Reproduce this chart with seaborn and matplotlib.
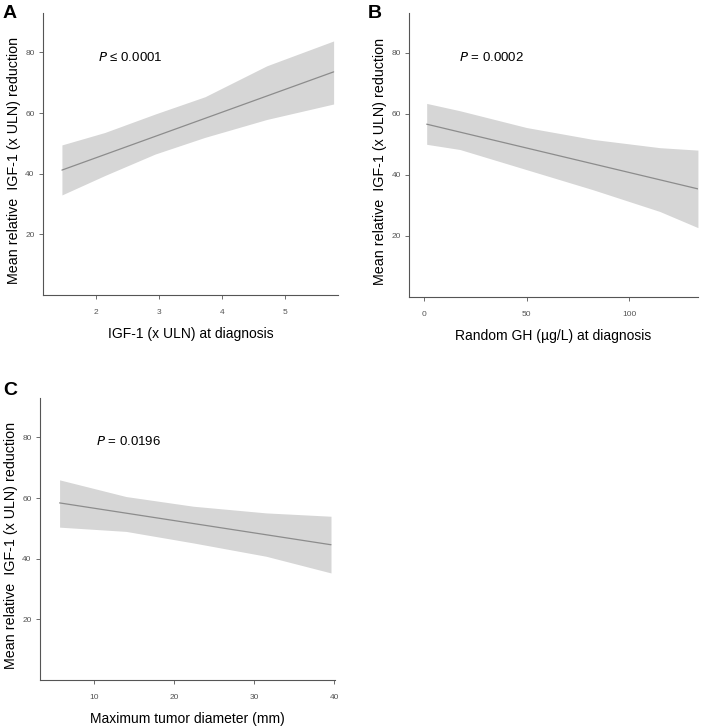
import numpy as np
import pandas as pd
import matplotlib
matplotlib.use("Agg")
import matplotlib.pyplot as plt
import seaborn as sns

# Panel A: IGF-1 (x ULN) at diagnosis
a_x = [1.46, 2.14, 2.94, 3.73, 4.71, 5.77]
a_lower = [33.0, 39.4, 46.5, 52.0, 57.9, 63.0]
a_upper = [49.5, 53.6, 59.7, 65.4, 75.6, 83.8]
a_fit_x = [1.46, 5.77]
a_fit_y = [41.2, 73.6]

# Panel B: Random GH (µg/L) at diagnosis
b_x = [1.3, 17.5, 50.0, 82.5, 115.0, 133.6]
b_lower = [50.0, 48.3, 41.7, 35.1, 28.0, 22.7]
b_upper = [63.4, 61.0, 55.5, 51.6, 48.9, 48.1]
b_fit_x = [1.3, 133.6]
b_fit_y = [56.6, 35.4]

# Panel C: Maximum tumor diameter (mm)
c_x = [5.7, 14.0, 22.4, 31.5, 39.6]
c_lower = [50.4, 49.0, 45.2, 40.8, 35.3]
c_upper = [66.0, 60.5, 57.3, 55.1, 54.0]
c_fit_x = [5.7, 39.6]
c_fit_y = [58.4, 44.6]

y_ticks = [20, 40, 60, 80]
ylabel = "Mean relative  IGF-1 (x ULN) reduction"

sns.set_style("ticks")
plt.rcParams["font.family"] = ["Liberation Sans", "DejaVu Sans"]
plt.rcParams["text.color"] = "black"
plt.rcParams["axes.labelcolor"] = "black"

fig = plt.figure(figsize=(7.24, 7.26), dpi=100)

panels = [
    dict(rect=[0.0594, 0.5937, 0.4075, 0.3883], x=a_x, lo=a_lower, hi=a_upper,
         fx=a_fit_x, fy=a_fit_y, xlim=(1.16, 5.84), xticks=[2, 3, 4, 5],
         xlabel="IGF-1 (x ULN) at diagnosis", ptxt=r"$\it{P}$ ≤ 0.0001", px=2.03),
    dict(rect=[0.565, 0.591, 0.399, 0.391], x=b_x, lo=b_lower, hi=b_upper,
         fx=b_fit_x, fy=b_fit_y, xlim=(-7.3, 133.6), xticks=[0, 50, 100],
         xlabel="Random GH (µg/L) at diagnosis", ptxt=r"$\it{P}$ = 0.0002", px=17),
    dict(rect=[0.0552, 0.0634, 0.4075, 0.3884], x=c_x, lo=c_lower, hi=c_upper,
         fx=c_fit_x, fy=c_fit_y, xlim=(3.25, 40.1), xticks=[10, 20, 30, 40],
         xlabel="Maximum tumor diameter (mm)", ptxt=r"$\it{P}$ = 0.0196", px=10.3),
]

for p in panels:
    ax = fig.add_axes(p["rect"])
    ax.fill_between(p["x"], p["lo"], p["hi"], color="#d6d6d6", linewidth=0)
    df = pd.DataFrame({"x": p["fx"], "y": p["fy"]})
    sns.lineplot(data=df, x="x", y="y", ax=ax, color="#8c8c8c", linewidth=0.9)
    ax.set_xlim(*p["xlim"])
    ax.set_ylim(0, 93)
    ax.set_xticks(p["xticks"])
    ax.set_yticks(y_ticks)
    ax.tick_params(axis="both", labelsize=6, colors="#555555", length=3, width=0.6,
                   labelcolor="#555555", pad=3)
    ax.tick_params(axis="x", pad=7)
    for s in ["top", "right"]:
        ax.spines[s].set_visible(False)
    for s in ["left", "bottom"]:
        ax.spines[s].set_color("#555555")
        ax.spines[s].set_linewidth(0.8)
    ax.set_xlabel(p["xlabel"], fontsize=10, labelpad=8)
    ax.set_ylabel(ylabel, fontsize=10.3)
    ax.yaxis.set_label_coords(-0.075, 0.478)
    ax.text(p["px"], 78.5, p["ptxt"], fontsize=9.5, va="center", ha="left")
    ax.set_facecolor("white")

fig.text(0.004, 0.993, "A", fontsize=14, fontweight="bold", va="top")
fig.text(0.508, 0.993, "B", fontsize=14, fontweight="bold", va="top")
fig.text(0.004, 0.474, "C", fontsize=14, fontweight="bold", va="top")

fig.savefig("out.png", dpi=100, facecolor="white")
